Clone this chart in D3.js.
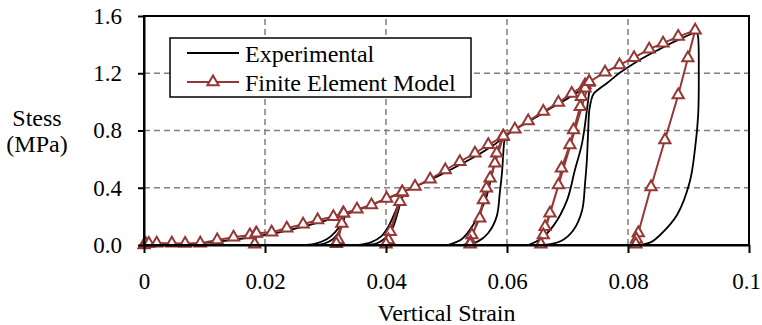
<!DOCTYPE html>
<html><head><meta charset="utf-8">
<script src="https://cdn.jsdelivr.net/npm/d3@7"></script>
<style>
html,body{margin:0;padding:0;background:#fff;}
</style></head>
<body><svg id="c" width="762" height="325"></svg>
<script>
// ---- data ----
const xTicks = [0, 0.02, 0.04, 0.06, 0.08, 0.1];
const xTickLabels = ["0", "0.02", "0.04", "0.06", "0.08", "0.1"];
const yTicks = [0, 0.4, 0.8, 1.2, 1.6];
const yTickLabels = ["0.0", "0.4", "0.8", "1.2", "1.6"];
const seriesNames = ["Experimental", "Finite Element Model"];

// Experimental (strain, stress) curves
const expEnvelope1 = [[0,0],[0.005,0.004],[0.01,0.015],[0.015,0.038],[0.02,0.07],[0.025,0.115],[0.03,0.17],[0.0332,0.212],[0.036,0.255],[0.039,0.305],[0.0432,0.378],[0.046,0.43],[0.049,0.49],[0.052,0.555],[0.055,0.625],[0.0575,0.69],[0.0593,0.745],[0.0602,0.775],[0.062,0.825],[0.0645,0.885],[0.067,0.95],[0.0695,1.01],[0.072,1.075],[0.0737,1.115]];
const expEnvelope2 = [[0.0739,1.01],[0.0743,1.055],[0.0752,1.09],[0.0765,1.13],[0.0787,1.205],[0.082,1.295],[0.0853,1.37],[0.0886,1.44],[0.0914,1.49]];
const expLoop1a = [[0.0268,0],[0.0285,0.012],[0.0302,0.04],[0.0316,0.09],[0.0326,0.15],[0.0332,0.212]];
const expLoop1b = [[0.0285,0],[0.0298,0.01],[0.0312,0.04],[0.0322,0.09],[0.0329,0.15],[0.0332,0.212]];
const expLoop2a = [[0.0355,0],[0.0375,0.018],[0.0392,0.06],[0.0404,0.13],[0.0414,0.22],[0.0422,0.3],[0.0432,0.378]];
const expLoop2b = [[0.0368,0],[0.0385,0.012],[0.0399,0.05],[0.0411,0.12],[0.0419,0.22],[0.0425,0.31],[0.0432,0.378]];
const expLoop3a = [[0.0502,0],[0.0525,0.04],[0.0544,0.14],[0.0564,0.31],[0.0575,0.49],[0.0583,0.64],[0.0593,0.745]];
const expLoop3b = [[0.0527,0],[0.0552,0.025],[0.0569,0.084],[0.0583,0.2],[0.0588,0.36],[0.0592,0.52],[0.0594,0.65],[0.0596,0.73],[0.0602,0.775]];
const expLoop4a = [[0.0635,0],[0.0655,0.04],[0.0676,0.13],[0.0699,0.31],[0.0712,0.52],[0.0724,0.71],[0.0732,0.94],[0.0737,1.115]];
const expLoop4b = [[0.0663,0],[0.069,0.03],[0.0709,0.1],[0.0724,0.24],[0.0729,0.43],[0.0732,0.59],[0.0734,0.78],[0.0736,0.94],[0.0739,1.01]];
const expFinalUnload = [[0.082,0],[0.0838,0.02],[0.0853,0.07],[0.0881,0.21],[0.0902,0.44],[0.0911,0.68],[0.0916,0.91],[0.0917,1.2],[0.0916,1.45],[0.0914,1.49]];

// Finite element model (strain, stress) path, in loading order
const feStrain = [0,0.0003,0.0008,0.0021,0.0046,0.0068,0.0093,0.0121,0.0148,0.0175,0.0185,0.0183,0.0186,
  0.0211,0.0236,0.0263,0.0287,0.0313,0.0329,0.0327,0.0321,0.0318,0.033,
  0.0352,0.0376,0.0401,0.0426,0.0423,0.0407,0.0404,0.04,0.0427,
  0.0448,0.0473,0.0498,0.0522,0.0547,0.0569,0.0593,0.0583,0.058,0.0572,0.0566,0.0561,0.0555,0.0542,0.054,0.0539,0.0594,
  0.0613,0.0635,0.066,0.0685,0.0707,0.0729,0.0735,0.0729,0.0723,0.0721,0.071,0.0704,0.069,0.0685,0.0671,0.0663,0.066,0.0656,0.0736,
  0.0762,0.0786,0.081,0.0835,0.0858,0.0883,0.0911,0.0899,0.0883,0.0861,0.0838,0.0817,0.0814,0.0813];
const feStress = [0,0.008,0.01,0.012,0.012,0.01,0.012,0.035,0.054,0.07,0.08,0.005,0.082,
  0.089,0.117,0.145,0.175,0.198,0.221,0.15,0.035,0.008,0.222,
  0.249,0.28,0.325,0.365,0.303,0.093,0.035,0.005,0.37,
  0.408,0.46,0.524,0.582,0.641,0.70,0.757,0.641,0.571,0.466,0.396,0.314,0.187,0.07,0.02,0.005,0.76,
  0.808,0.866,0.932,0.995,1.059,1.118,1.135,1.095,1.036,0.966,0.804,0.699,0.536,0.419,0.222,0.128,0.07,0.005,1.14,
  1.207,1.258,1.309,1.368,1.41,1.456,1.50,1.307,1.048,0.734,0.405,0.084,0.04,0.005];

// ---- chart ----
const FONT = "'Liberation Serif', 'Times New Roman', Times, Tinos, 'DejaVu Serif', serif";
const FS_TICK = 23, FS_TEXT = 24;
const svg = d3.select("#c");
const x = d3.scaleLinear().domain([0, 0.1]).range([144, 749]);
const y = d3.scaleLinear().domain([0, 1.6]).range([245, 16]);
const red = "#953735";

// grid
const grid = svg.append("g").attr("stroke", "#808080").attr("stroke-width", 1.5).attr("stroke-dasharray", "6,4");
grid.selectAll(".gx").data(xTicks.slice(1, -1)).enter().append("line")
  .attr("x1", d => x(d)).attr("x2", d => x(d)).attr("y1", y(0)).attr("y2", y(1.6));
grid.selectAll(".gy").data(yTicks.slice(1, -1)).enter().append("line")
  .attr("y1", d => y(d)).attr("y2", d => y(d)).attr("x1", x(0)).attr("x2", x(0.1));

// experimental curves
const curve = d3.line().x(d => x(d[0])).y(d => y(d[1])).curve(d3.curveCatmullRom.alpha(0.5));
const expCurves = [expEnvelope1, expEnvelope2, expLoop1a, expLoop1b, expLoop2a, expLoop2b, expLoop3a, expLoop3b, expLoop4a, expLoop4b, expFinalUnload];
svg.append("g").selectAll("path").data(expCurves).enter().append("path")
  .attr("d", curve).attr("fill", "none").attr("stroke", "#000").attr("stroke-width", 1.8);

// FE model
const fe = feStrain.map((s, i) => [s, feStress[i]]);
svg.append("path").datum(fe).attr("d", d3.line().x(d => x(d[0])).y(d => y(d[1])))
  .attr("fill", "none").attr("stroke", red).attr("stroke-width", 2);
const tri = d3.symbol().type(d3.symbolTriangle).size(55);
svg.append("g").selectAll("path").data(fe).enter().append("path")
  .attr("d", tri).attr("transform", d => `translate(${x(d[0])},${y(d[1])})`)
  .attr("fill", "#fff").attr("stroke", red).attr("stroke-width", 2);

// frame
svg.append("rect").attr("x", x(0)).attr("y", y(1.6)).attr("width", x(0.1) - x(0)).attr("height", y(0) - y(1.6))
  .attr("fill", "none").attr("stroke", "#000").attr("stroke-width", 2);

// axes
const xAxis = svg.append("g").attr("transform", `translate(0,${y(0)})`)
  .call(d3.axisBottom(x).tickValues(xTicks).tickFormat((d, i) => xTickLabels[i]).tickSizeOuter(0).tickSizeInner(8).tickPadding(20));
const yAxis = svg.append("g").attr("transform", `translate(${x(0)},0)`)
  .call(d3.axisLeft(y).tickValues(yTicks).tickFormat((d, i) => yTickLabels[i]).tickSizeOuter(0).tickSizeInner(6).tickPadding(16));
[xAxis, yAxis].forEach(a => {
  a.attr("font-family", null).attr("font-size", null);
  a.select(".domain").attr("stroke", "#000").attr("stroke-width", 2);
  a.selectAll(".tick line").attr("stroke", "#000").attr("stroke-width", 2);
  a.selectAll("text").style("font-family", FONT).style("font-size", FS_TICK + "px").attr("fill", "#000");
});
xAxis.selectAll(".tick text").filter((d, i) => i === xTicks.length - 1).attr("dx", -3);

// axis titles
function txt(g, xx, yy, s, anchor) {
  return g.append("text").attr("x", xx).attr("y", yy).attr("text-anchor", anchor || "start")
    .style("font-family", FONT).style("font-size", FS_TEXT + "px").attr("fill", "#000").text(s);
}
txt(svg, x(0.05), 321, "Vertical Strain", "middle");
txt(svg, 37, 126, "Stess", "middle");
txt(svg, 37, 152, "(MPa)", "middle");

// legend
const lg = svg.append("g");
lg.append("rect").attr("x", 170).attr("y", 38).attr("width", 301).attr("height", 59)
  .attr("fill", "#fff").attr("stroke", "#000").attr("stroke-width", 1.5);
lg.append("line").attr("x1", 187).attr("x2", 239).attr("y1", 53).attr("y2", 53).attr("stroke", "#000").attr("stroke-width", 1.8);
lg.append("line").attr("x1", 187).attr("x2", 239).attr("y1", 82).attr("y2", 82).attr("stroke", red).attr("stroke-width", 2);
lg.append("path").attr("d", tri).attr("transform", "translate(213,82)").attr("fill", "#fff").attr("stroke", red).attr("stroke-width", 2);
txt(lg, 245, 62, seriesNames[0]);
txt(lg, 245, 91, seriesNames[1]);
</script></body></html>
